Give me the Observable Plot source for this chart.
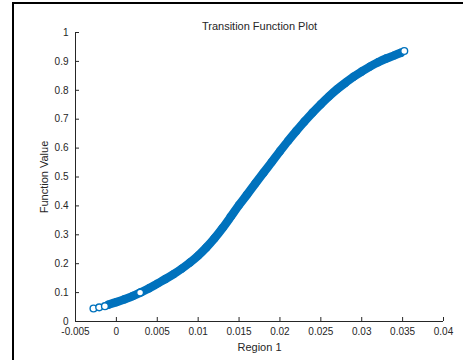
<!DOCTYPE html>
<html><head><meta charset="utf-8">
<script src="https://cdn.jsdelivr.net/npm/d3@7"></script>
<script src="https://cdn.jsdelivr.net/npm/@observablehq/plot@0.6"></script>
<style>
html,body{margin:0;padding:0;background:#fff;}
#wrap{position:relative;width:463px;height:360px;overflow:hidden;}
#frame{position:absolute;left:12px;top:2px;right:-6px;bottom:-6px;border-top:2px solid #000;border-left:2px solid #000;pointer-events:none;}
</style></head>
<body><div id="wrap"><div id="chart"></div><div id="frame"></div></div>
<script>
// Dense band of the scatter
const curveX = [-0.001,0,0.001,0.002,0.003,0.004,0.005,0.006,0.007,0.008,0.009,0.010,0.011,0.012,0.013,0.014,0.015,0.016,0.017,0.018,0.019,0.020,0.021,0.022,0.023,0.024,0.025,0.026,0.027,0.028,0.029,0.030,0.031,0.032,0.033,0.034,0.0348];
const curveY = [0.058,0.067,0.077,0.088,0.101,0.115,0.131,0.147,0.164,0.183,0.204,0.228,0.256,0.288,0.324,0.363,0.403,0.440,0.478,0.515,0.552,0.589,0.625,0.659,0.692,0.723,0.752,0.779,0.804,0.826,0.847,0.865,0.882,0.897,0.910,0.921,0.930];
// Isolated hollow markers
const markerX = [-0.0028,-0.0021,-0.0014,0.0029,0.0352];
const markerY = [0.045,0.049,0.053,0.100,0.936];

const xTicks = [-0.005,0,0.005,0.01,0.015,0.02,0.025,0.03,0.035,0.04];
const xTickLabels = ["-0.005","0","0.005","0.01","0.015","0.02","0.025","0.03","0.035","0.04"];
const yTicks = [0,0.1,0.2,0.3,0.4,0.5,0.6,0.7,0.8,0.9,1];
const yTickLabels = ["0","0.1","0.2","0.3","0.4","0.5","0.6","0.7","0.8","0.9","1"];

const titleText = "Transition Function Plot";
const xLabelText = "Region 1";
const yLabelText = "Function Value";

const blue = "#0072BD";
const ink = "#262626";
const font = "'Liberation Sans', Arial, Helvetica, sans-serif";

const band = curveX.map((x, i) => ({x, y: curveY[i]}));
const markers = markerX.map((x, i) => ({x, y: markerY[i]}));

const chart = Plot.plot({
  width: 463,
  height: 360,
  marginLeft: 75,
  marginRight: 20,
  marginTop: 32,
  marginBottom: 39,
  style: {fontFamily: font, fontSize: "10px", color: ink, background: "#fff"},
  x: {domain: [-0.005, 0.04], axis: null},
  y: {domain: [0, 1], axis: null},
  marks: [
    Plot.line(band, {x: "x", y: "y", stroke: blue, strokeWidth: 8.5, curve: "catmull-rom", strokeLinecap: "round"}),
    Plot.dot(band, {x: "x", y: "y", r: 3.5, stroke: blue, strokeWidth: 1.4, fill: "none"}),
    Plot.dot(markers, {x: "x", y: "y", r: 3.4, stroke: blue, strokeWidth: 1.4, fill: "#fff"}),
    Plot.ruleY([0], {stroke: ink, strokeWidth: 1}),
    Plot.ruleX([-0.005], {stroke: ink, strokeWidth: 1}),
    Plot.axisX({ticks: xTicks, tickSize: -4, tickFormat: () => "", stroke: ink, label: null}),
    Plot.axisX({ticks: xTicks, tickSize: 0, tickPadding: 6, tickFormat: (d, i) => xTickLabels[i], fill: ink, fontSize: 10, label: null}),
    Plot.axisY({ticks: yTicks, tickSize: -4, tickFormat: () => "", stroke: ink, label: null}),
    Plot.axisY({ticks: yTicks, tickSize: 0, tickPadding: 7, tickFormat: (d, i) => yTickLabels[i], fill: ink, fontSize: 10, label: null}),
    Plot.text([titleText], {frameAnchor: "top", dy: -10, textAnchor: "middle", fill: ink, fontSize: 11}),
    Plot.text([xLabelText], {frameAnchor: "bottom", dy: 29, textAnchor: "middle", fill: ink, fontSize: 11}),
    Plot.text([yLabelText], {frameAnchor: "left", dx: -31, rotate: -90, textAnchor: "middle", fill: ink, fontSize: 11})
  ]
});
document.getElementById("chart").appendChild(chart);
</script>
</body></html>
